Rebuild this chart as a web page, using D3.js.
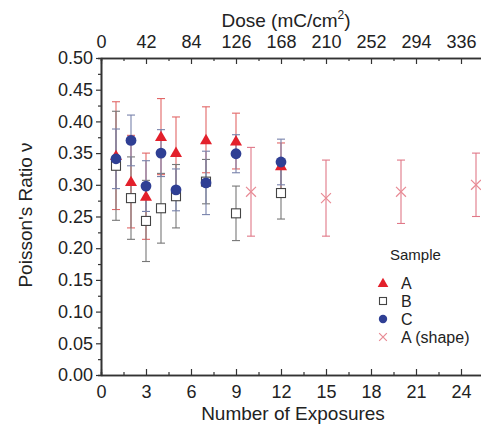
<!DOCTYPE html>
<html>
<head>
<meta charset="utf-8">
<script src="https://cdn.jsdelivr.net/npm/d3@7"></script>
<style>
  body { margin: 0; background: #fff; }
  svg text { font-family: "Liberation Sans", Arial, sans-serif; fill: #222; }
</style>
</head>
<body>
<div id="chart"></div>
<script>
// exposures and Poisson's ratio with +/- errors, per sample
const exposuresA = [1, 2, 3, 4, 5, 7, 9, 12];
const nuA = [0.346, 0.305, 0.282, 0.376, 0.351, 0.371, 0.369, 0.330];
const errA = [0.085, 0.073, 0.068, 0.060, 0.056, 0.052, 0.044, 0.036];

const exposuresB = [1, 2, 3, 4, 5, 7, 9, 12];
const nuB = [0.330, 0.279, 0.243, 0.263, 0.282, 0.305, 0.255, 0.287];
const errB = [0.086, 0.065, 0.064, 0.055, 0.050, 0.035, 0.043, 0.041];

const exposuresC = [1, 2, 3, 4, 5, 7, 9, 12];
const nuC = [0.341, 0.370, 0.298, 0.350, 0.292, 0.303, 0.349, 0.336];
const errC = [0.047, 0.040, 0.040, 0.037, 0.033, 0.050, 0.030, 0.036];

const exposuresShape = [10, 15, 20, 25];
const nuShape = [0.289, 0.279, 0.289, 0.300];
const errShape = [0.070, 0.060, 0.050, 0.050];

const bottomTicks = [0, 3, 6, 9, 12, 15, 18, 21, 24];
const topTicks = [0, 42, 84, 126, 168, 210, 252, 294, 336];
const yTicks = [0, 0.05, 0.1, 0.15, 0.2, 0.25, 0.3, 0.35, 0.4, 0.45, 0.5];

const W = 481, H = 427;
const svg = d3.select("#chart").append("svg")
    .attr("width", W).attr("height", H);

let x = d3.scaleLinear().domain([0, 25.6]).range([101, 485]);
let xTop = d3.scaleLinear().domain([0, 25.6 * 14]).range([101, 485]);
let y = d3.scaleLinear().domain([0, 0.5]).range([375, 58]);

// axes
let axisColor = "#333";
svg.append("g").attr("transform", "translate(0,375)")
    .call(d3.axisBottom(x).tickValues(bottomTicks).tickSizeInner(-6).tickSizeOuter(0).tickPadding(10));
svg.append("g").attr("transform", "translate(0,375)")
    .call(d3.axisBottom(x).tickValues(d3.range(1.5, 25.6, 3)).tickSize(-3).tickFormat(""));
svg.append("g").attr("transform", "translate(0,58)")
    .call(d3.axisTop(xTop).tickValues(topTicks).tickSizeInner(-6).tickSizeOuter(0).tickPadding(10));
svg.append("g").attr("transform", "translate(0,58)")
    .call(d3.axisTop(xTop).tickValues(d3.range(21, 358, 42)).tickSize(-3).tickFormat(""));
svg.append("g").attr("transform", "translate(101,0)")
    .call(d3.axisLeft(y).tickValues(yTicks).tickFormat(d3.format(".2f")).tickSizeInner(5).tickSizeOuter(0).tickPadding(3));
svg.append("g").attr("transform", "translate(101,0)")
    .call(d3.axisLeft(y).tickValues(d3.range(0.025, 0.5, 0.05)).tickSize(3).tickFormat(""));

svg.selectAll(".domain").attr("stroke", axisColor).attr("stroke-width", 1.6);
svg.selectAll(".tick line").attr("stroke", axisColor).attr("stroke-width", 1.2);
svg.selectAll(".tick text").attr("font-size", 18).attr("fill", "#222")
    .attr("font-family", "Liberation Sans, Arial, sans-serif");

// axis titles
svg.append("text").attr("x", 293).attr("y", 420).attr("text-anchor", "middle")
    .attr("font-size", 19).text("Number of Exposures");
let doseTitle = svg.append("text").attr("x", 286).attr("y", 27).attr("text-anchor", "middle")
    .attr("font-size", 19);
doseTitle.append("tspan").text("Dose (mC/cm");
doseTitle.append("tspan").attr("font-size", 12).attr("dy", -8).text("2");
doseTitle.append("tspan").attr("dy", 8).text(")");
svg.append("text").attr("transform", "translate(32,215) rotate(-90)")
    .attr("text-anchor", "middle").attr("font-size", 19).text("Poisson's Ratio ν");

// series
let series = [
    {name: "A", xs: exposuresA, ys: nuA, es: errA, shape: "triangle", color: "#e3202b", bar: "#e26767"},
    {name: "B", xs: exposuresB, ys: nuB, es: errB, shape: "square", color: "#444", bar: "#777"},
    {name: "C", xs: exposuresC, ys: nuC, es: errC, shape: "circle", color: "#2f3f94", bar: "#7882ab"},
    {name: "A (shape)", xs: exposuresShape, ys: nuShape, es: errShape, shape: "cross", color: "#e88a94", bar: "#e07888"}
];

function rows(s) {
    return s.xs.map(function(d, i) { return {x: d, y: s.ys[i], e: s.es[i]}; });
}

// error bars first
series.forEach(function(s) {
    let g = svg.append("g").attr("stroke", s.bar).attr("stroke-width", 1.1).attr("fill", "none");
    let r = rows(s);
    g.selectAll(".v").data(r).enter().append("line")
        .attr("x1", d => x(d.x)).attr("x2", d => x(d.x))
        .attr("y1", d => y(d.y - d.e)).attr("y2", d => y(d.y + d.e));
    g.selectAll(".ct").data(r).enter().append("line")
        .attr("x1", d => x(d.x) - 4).attr("x2", d => x(d.x) + 4)
        .attr("y1", d => y(d.y + d.e)).attr("y2", d => y(d.y + d.e));
    g.selectAll(".cb").data(r).enter().append("line")
        .attr("x1", d => x(d.x) - 4).attr("x2", d => x(d.x) + 4)
        .attr("y1", d => y(d.y - d.e)).attr("y2", d => y(d.y - d.e));
});

function drawMarker(sel, shape, color, size) {
    if (shape === "triangle") {
        sel.append("path").attr("d", d3.symbol(d3.symbolTriangle, size * 7)).attr("fill", color)
            .attr("transform", "translate(0,1)");
    } else if (shape === "square") {
        sel.append("rect").attr("x", -size / 2).attr("y", -size / 2)
            .attr("width", size).attr("height", size)
            .attr("fill", "#fff").attr("stroke", color).attr("stroke-width", 1.1);
    } else if (shape === "circle") {
        sel.append("circle").attr("r", size * 0.6).attr("fill", color);
    } else {
        let h = size * 0.55;
        sel.append("path").attr("d", "M" + (-h) + "," + (-h) + "L" + h + "," + h + "M" + (-h) + "," + h + "L" + h + "," + (-h))
            .attr("stroke", color).attr("stroke-width", 1.2).attr("fill", "none");
    }
}

// markers: B under A under C
[series[1], series[0], series[2], series[3]].forEach(function(s) {
    svg.append("g").selectAll("g").data(rows(s)).enter().append("g")
        .attr("transform", d => "translate(" + x(d.x) + "," + y(d.y) + ")")
        .each(function() { drawMarker(d3.select(this), s.shape, s.color, 9); });
});

// legend
let legend = svg.append("g").attr("transform", "translate(383,0)");
legend.append("text").attr("x", 7).attr("y", 260).attr("font-size", 15).text("Sample");
series.forEach(function(s, i) {
    let row = legend.append("g").attr("transform", "translate(0," + (283 + i * 18) + ")");
    let m = row.append("g");
    drawMarker(m, s.shape, s.color, 7);
    row.append("text").attr("x", 18).attr("y", 6).attr("font-size", 16).text(s.name);
});
</script>
</body>
</html>
